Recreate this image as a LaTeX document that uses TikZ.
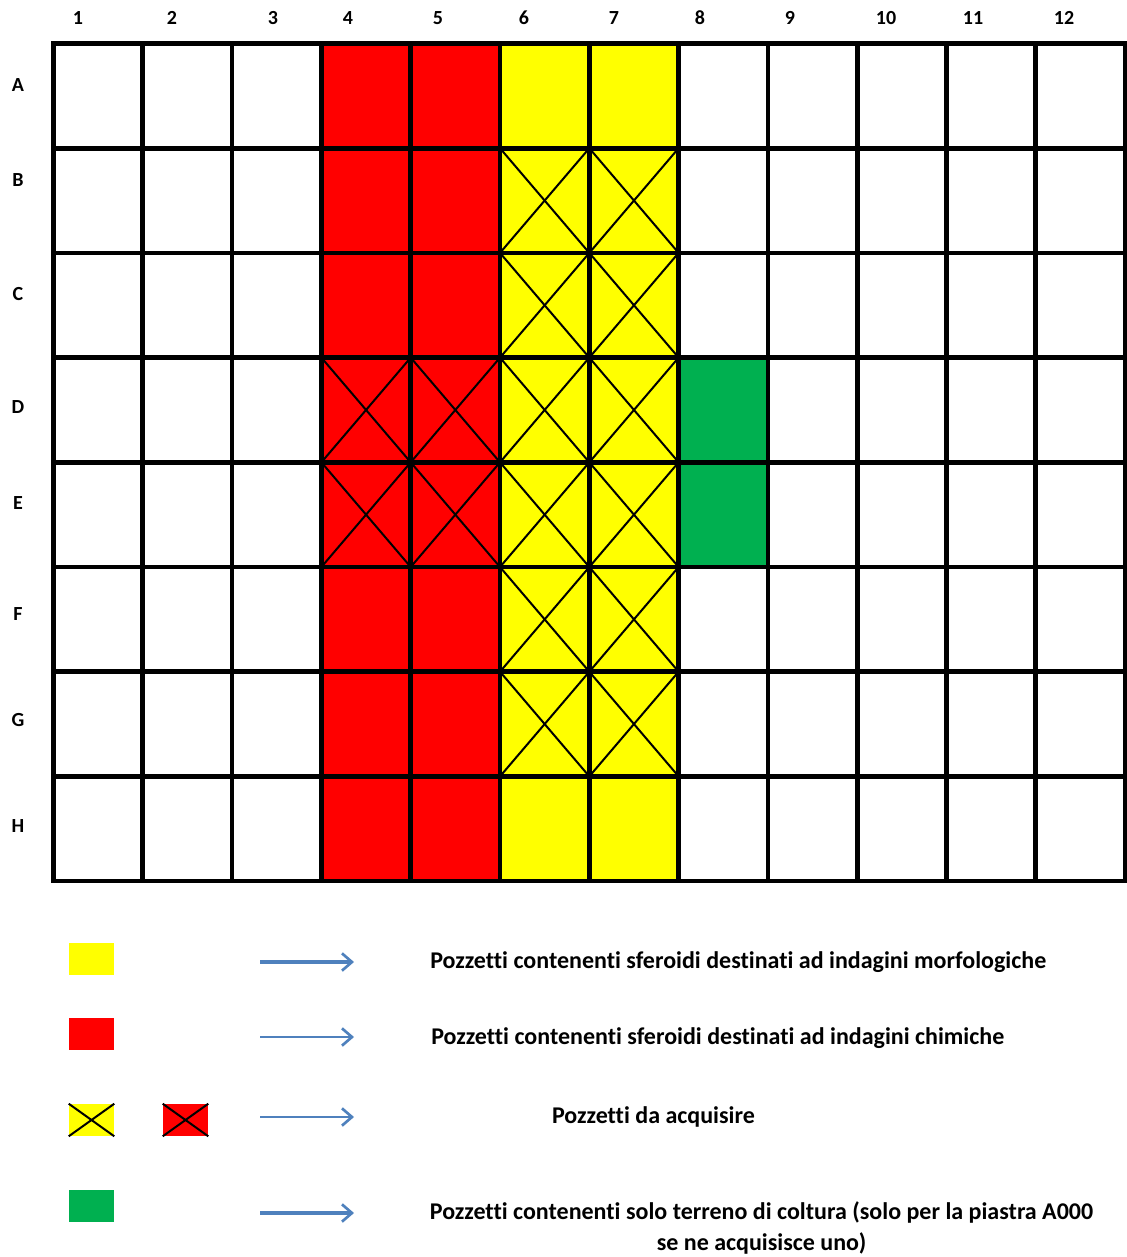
\documentclass[tikz,border=0pt]{standalone}
\usepackage{fontspec}
\setmainfont{Carlito}[Ligatures=NoCommon]
\usetikzlibrary{arrows.meta}
\definecolor{wred}{RGB}{255,0,0}
\definecolor{wyel}{RGB}{255,255,0}
\definecolor{wgreen}{RGB}{0,176,80}
\definecolor{arrblue}{RGB}{79,129,189}
\tikzset{
  gridline/.style={line width=3.5pt, line cap=rect},
  crossline/.style={line width=1.5pt},
  hdr/.style={font=\bfseries\fontsize{15}{17}\selectfont, inner sep=0pt},
  legtext/.style={font=\bfseries\fontsize{18}{23.2}\selectfont, inner sep=0pt, align=center},
  legbox/.style={minimum width=45*0.75pt, minimum height=32*0.75pt, inner sep=0pt, draw=none},
  legarrow/.style={draw=arrblue, -{Straight Barb[length=7.5pt,width=13pt,line width=2pt]}},
}
\begin{document}
\begin{tikzpicture}[x=0.75pt,y=-0.75pt]
\useasboundingbox (0,0) rectangle (1127,1257);
\def\xs{89.3}
\def\ys{104.7}
\def\xo{53.5}
\def\yo{43.5}
% fills
\fill[wred] ({\xo+3*\xs},\yo) rectangle ({\xo+5*\xs},{\yo+8*\ys});
\fill[wyel] ({\xo+5*\xs},\yo) rectangle ({\xo+7*\xs},{\yo+8*\ys});
\fill[wgreen] ({\xo+7*\xs},{\yo+3*\ys}) rectangle ({\xo+8*\xs},{\yo+5*\ys});
% crosses red cols 4,5 rows D,E
\foreach \c in {3,4} \foreach \r in {3,4} {
  \draw[crossline] ({\xo+\c*\xs},{\yo+\r*\ys}) -- ({\xo+(\c+1)*\xs},{\yo+(\r+1)*\ys});
  \draw[crossline] ({\xo+(\c+1)*\xs},{\yo+\r*\ys}) -- ({\xo+\c*\xs},{\yo+(\r+1)*\ys});
}
% crosses yellow cols 6,7 rows B-G
\foreach \c in {5,6} \foreach \r in {1,...,6} {
  \draw[crossline] ({\xo+\c*\xs},{\yo+\r*\ys}) -- ({\xo+(\c+1)*\xs},{\yo+(\r+1)*\ys});
  \draw[crossline] ({\xo+(\c+1)*\xs},{\yo+\r*\ys}) -- ({\xo+\c*\xs},{\yo+(\r+1)*\ys});
}
% grid
\foreach \c in {0,...,12}
  \draw[gridline] ({\xo+\c*\xs},\yo) -- ({\xo+\c*\xs},{\yo+8*\ys});
\foreach \r in {0,...,8}
  \draw[gridline] (\xo,{\yo+\r*\ys}) -- ({\xo+12*\xs},{\yo+\r*\ys});
% column labels
\foreach \lab/\x in {1/78,2/172,3/273,4/348,5/438,6/524,7/614,8/700,9/790,10/886,11/973,12/1064}
  \node[hdr] (col\lab) at (\x,18) {\lab};
% row labels
\foreach \lab/\y in {A/85,B/180,C/294,D/407,E/503,F/614,G/720,H/826}
  \node[hdr] (row\lab) at (18,\y) {\lab};
% legend boxes
\node[legbox, fill=wyel] (ly) at (91.5,959) {};
\node[legbox, fill=wred] (lr) at (91.5,1034) {};
\node[legbox, fill=wyel] (lyx) at (91.5,1120) {};
\draw[crossline] (lyx.north west) -- (lyx.south east) (lyx.north east) -- (lyx.south west);
\node[legbox, fill=wred] (lrx) at (185.5,1120) {};
\draw[crossline] (lrx.north west) -- (lrx.south east) (lrx.north east) -- (lrx.south west);
\node[legbox, fill=wgreen] (lg) at (91.5,1206) {};
% arrows
\coordinate (a1s) at (260,962); \coordinate (a1e) at (354,962);
\coordinate (a2s) at (260,1037); \coordinate (a2e) at (354,1037);
\coordinate (a3s) at (260,1117); \coordinate (a3e) at (354,1117);
\coordinate (a4s) at (260,1213); \coordinate (a4e) at (354,1213);
\draw[legarrow, line width=2.4pt] (a1s) -- (a1e);
\draw[legarrow, line width=1.6pt] (a2s) -- (a2e);
\draw[legarrow, line width=1.6pt] (a3s) -- (a3e);
\draw[legarrow, line width=2.4pt] (a4s) -- (a4e);
% legend texts
\node[legtext, anchor=west] (t1) at (430,962) {Pozzetti contenenti sferoidi destinati ad indagini morfologiche};
\node[legtext, anchor=west] (t2) at (431,1038) {Pozzetti contenenti sferoidi destinati ad indagini chimiche};
\node[legtext] (t3) at (653.5,1117) {Pozzetti da acquisire};
\node[legtext] (t4) at (761.5,1228) {Pozzetti contenenti solo terreno di coltura (solo per la piastra A000\\se ne acquisisce uno)};
\end{tikzpicture}
\end{document}
